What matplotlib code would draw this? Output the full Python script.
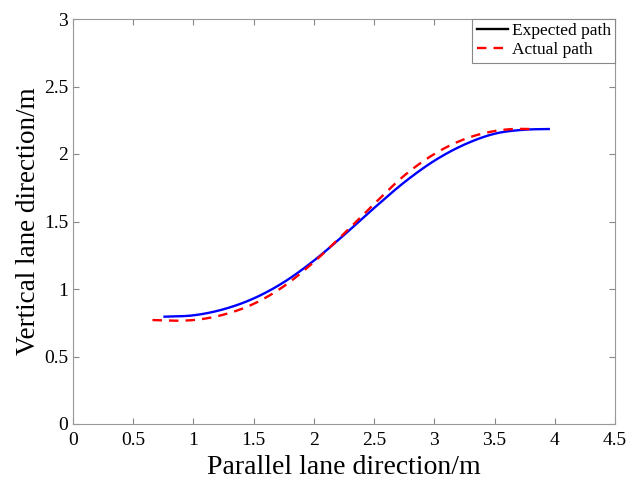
import matplotlib
matplotlib.use("Agg")
import matplotlib.pyplot as plt
from matplotlib.lines import Line2D
import numpy as np

# expected path (blue)
exp_x = [0.76, 1.00, 1.25, 1.50, 1.75, 2.00, 2.25, 2.50, 2.75, 3.00, 3.25, 3.50, 3.75, 3.95]
exp_y = [0.795, 0.805, 0.85, 0.93, 1.05, 1.21, 1.40, 1.60, 1.79, 1.95, 2.07, 2.15, 2.18, 2.185]

# actual path (red dashed)
act_x = [0.66, 0.85, 1.00, 1.25, 1.50, 1.75, 2.00, 2.25, 2.50, 2.75, 3.00, 3.25, 3.50, 3.65, 3.80]
act_y = [0.77, 0.765, 0.77, 0.81, 0.89, 1.02, 1.20, 1.41, 1.63, 1.84, 2.00, 2.11, 2.17, 2.185, 2.185]

xticks = [0, 0.5, 1, 1.5, 2, 2.5, 3, 3.5, 4, 4.5]
yticks = [0, 0.5, 1, 1.5, 2, 2.5, 3]

plt.rcParams['font.family'] = ['Liberation Serif', 'DejaVu Serif']

fig = plt.figure(figsize=(6.43, 4.84), dpi=100)
ax = fig.add_axes([73/643, 1-424/484, (615-73)/643, (424-19)/484])


# cubic hermite through the read points so the curve has no kinks
def smooth(x, y, n=300):
    x = np.asarray(x, float)
    y = np.asarray(y, float)
    m = np.gradient(y, x)
    xs = np.linspace(x[0], x[-1], n)
    i = np.clip(np.searchsorted(x, xs) - 1, 0, len(x) - 2)
    h = x[i+1] - x[i]
    t = (xs - x[i]) / h
    ys = ((2*t**3 - 3*t**2 + 1) * y[i] + (t**3 - 2*t**2 + t) * h * m[i]
          + (-2*t**3 + 3*t**2) * y[i+1] + (t**3 - t**2) * h * m[i+1])
    return xs, ys


ax.plot(*smooth(exp_x, exp_y), color='blue', lw=1.7)
ax.plot(*smooth(act_x, act_y), color='red', lw=1.7, ls=(0, (4, 3)))

ax.set_xlim(0, 4.5)
ax.set_ylim(0, 3)
ax.set_xticks(xticks)
ax.set_xticklabels([f"{t:g}" for t in xticks])
ax.set_yticks(yticks)
ax.set_yticklabels([f"{t:g}" for t in yticks])
ax.tick_params(labelsize=14, direction='in', length=4, color='#888888',
               top=True, right=True)
ax.tick_params(axis='x', pad=6)
for s in ax.spines.values():
    s.set_color('#999999')
ax.set_xlabel("Parallel lane direction/m", fontsize=20, labelpad=4)
ax.set_ylabel("Vertical lane direction/m", fontsize=19.5, labelpad=2)

handles = [Line2D([], [], color='black', lw=1.7),
           Line2D([], [], color='red', lw=1.7, ls=(0, (4, 3)))]
leg = ax.legend(handles, ["Expected path", "Actual path"], loc='upper right',
                fontsize=12.5, fancybox=False, framealpha=1, borderaxespad=0,
                handlelength=1.8, handletextpad=0.2, borderpad=0.25, labelspacing=0.15)
leg.get_frame().set_edgecolor('#888888')
leg.get_frame().set_linewidth(0.8)

fig.savefig("out.png", dpi=100)
